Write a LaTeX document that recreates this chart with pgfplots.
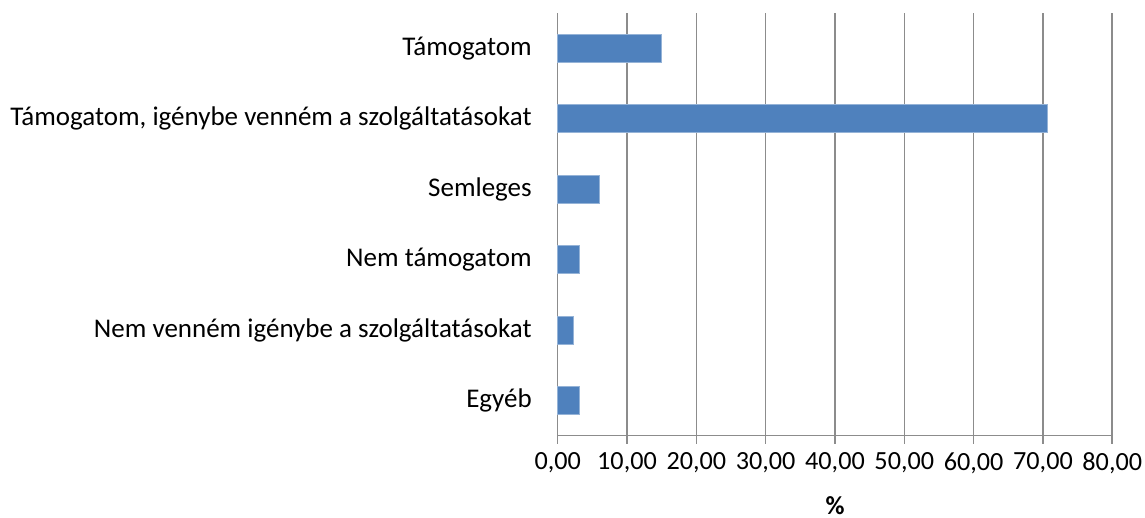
\documentclass[border=0pt]{standalone}
\usepackage{fontspec}
\setmainfont{Carlito}
\usepackage{pgfplots}
\pgfplotsset{compat=1.18}
\definecolor{barblue}{HTML}{4F81BD}
\definecolor{axgray}{HTML}{8C8C8C}
\begin{document}
\fontsize{13.5}{16}\selectfont
\begin{tikzpicture}
\useasboundingbox (-278.85pt,-41.15pt) rectangle (293.65pt,217.85pt);
\begin{axis}[
  scale only axis,
  width=277.3pt, height=211.35pt,
  anchor=south west, at={(0,0)},
  xbar, bar width=14pt,
  xmin=0, xmax=80, xtick={0,10,...,80},
  ymin=-0.5, ymax=5.5,
  ytick={0,1,2,3,4,5},
  yticklabels={Egyéb, Nem venném igénybe a szolgáltatásokat, Nem támogatom, Semleges, {Támogatom, igénybe venném a szolgáltatásokat}, Támogatom},
  minor ytick={-0.5,0.5,1.5,2.5,3.5,4.5,5.5},
  axis x line*=bottom, axis y line*=left,
  axis line style={color=axgray, line width=0.8pt},
  tick align=outside,
  major tick length=4pt, minor tick length=4pt,
  ytick style={draw=none},
  minor tick style={color=axgray, line width=0.8pt},
  xtick style={color=axgray, line width=0.8pt},
  xmajorgrids, major grid style={color=axgray, line width=0.8pt},
  /pgf/number format/assume math mode=true,
  /pgf/number format/fixed,
  /pgf/number format/fixed zerofill,
  /pgf/number format/precision=2,
  /pgf/number format/use comma,
  /pgf/number format/1000 sep={},
  xticklabel style={anchor=north, yshift=0.2pt, font=\fontsize{13.1}{16}\selectfont},
  yticklabel style={xshift=-4.3pt, font=\fontsize{13.5}{16}\selectfont},
  xlabel={\textbf{\%}},
  xlabel style={font=\fontsize{13}{16}\selectfont, at={(axis description cs:0.5,0)}, anchor=north, inner sep=1pt, yshift=-29pt},
  clip=false,
]
\addplot[fill=barblue, draw=barblue!60!white, line width=0.4pt] coordinates {
  (3.2,0) (2.2,1) (3.1,2) (6.0,3) (70.6,4) (14.9,5)
};
\end{axis}
\end{tikzpicture}
\end{document}
